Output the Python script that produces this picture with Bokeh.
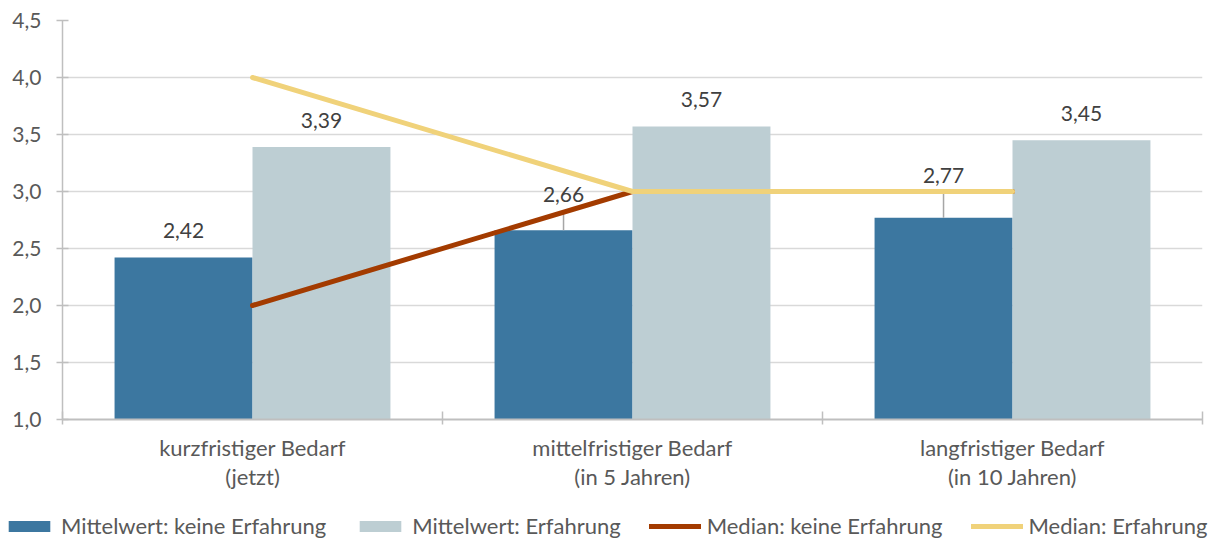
from bokeh.plotting import figure
from bokeh.layouts import column
from bokeh.models import (Range1d, FixedTicker, Legend, LegendItem,
                          ColumnDataSource, CustomJSTickFormatter)
from bokeh.transform import dodge
from bokeh.core.properties import value
from bokeh.embed import file_html
from bokeh.resources import INLINE

# ---- data ----
categories = ["kurzfristiger Bedarf\n(jetzt)",
              "mittelfristiger Bedarf\n(in 5 Jahren)",
              "langfristiger Bedarf\n(in 10 Jahren)"]
mean_none = [2.42, 2.66, 2.77]
mean_exp = [3.39, 3.57, 3.45]
median_none = [2.0, 3.0, 3.0]
median_exp = [4.0, 3.0, 3.0]
y_ticks = [1.0, 1.5, 2.0, 2.5, 3.0, 3.5, 4.0, 4.5]
series_names = ["Mittelwert: keine Erfahrung", "Mittelwert: Erfahrung",
                "Median: keine Erfahrung", "Median: Erfahrung"]

# ---- styles ----
C_DARK = "#3C77A0"
C_LIGHT = "#BDCED3"
C_RED = "#A33B00"
C_YEL = "#F0D27A"
TXT = "#595959"
FONT = "Lato"
label_lift = [0, 9, 15]   # px, labels moved up (with leader line)

W, H = 1210, 503
frame_left, frame_right, frame_top, frame_bottom = 62, 1202, 20, 419
ppu = (frame_bottom - frame_top) / (y_ticks[-1] - y_ticks[0])

n = len(categories)
xc = [i + 0.5 for i in range(n)]
fmt = lambda v: f"{v:.2f}".replace(".", ",")

src = ColumnDataSource(dict(
    x=xc, mean_none=mean_none, mean_exp=mean_exp,
    median_none=median_none, median_exp=median_exp,
    lbl_none=[fmt(v) for v in mean_none], lbl_exp=[fmt(v) for v in mean_exp],
    lbl_none_y=[v + l / ppu for v, l in zip(mean_none, label_lift)],
))

p = figure(width=W, height=H, x_range=Range1d(0, n), y_range=Range1d(y_ticks[0], y_ticks[-1]),
           output_backend="svg", toolbar_location=None, title=None,
           min_border_left=frame_left, min_border_right=W - frame_right,
           min_border_top=frame_top, min_border_bottom=H - frame_bottom)
p.outline_line_color = None
p.background_fill_color = "white"
p.frame_align = False

# grid
p.xgrid.visible = False
p.ygrid.ticker = FixedTicker(ticks=y_ticks)
p.ygrid.grid_line_color = "#D9D9D9"
p.ygrid.grid_line_width = 1.5

# y axis
ya = p.yaxis[0]
ya.ticker = FixedTicker(ticks=y_ticks)
ya.formatter = CustomJSTickFormatter(code="return tick.toFixed(1).replace('.', ',')")
ya.axis_line_color = "#BFBFBF"
ya.axis_line_width = 1.5
ya.major_tick_line_color = "#BFBFBF"
ya.major_tick_line_width = 1.5
ya.major_tick_out = 6
ya.major_tick_in = 6
ya.minor_tick_line_color = None
ya.major_label_text_font = FONT
ya.major_label_text_font_size = "21px"
ya.major_label_text_color = TXT
ya.major_label_standoff = 15

# x axis: labels at category centres, tick marks at boundaries (minor ticks)
xa = p.xaxis[0]
xa.ticker = FixedTicker(ticks=xc, minor_ticks=list(range(n + 1)))
xa.formatter = CustomJSTickFormatter(args=dict(labels=categories),
                                     code="return labels[Math.floor(tick)]")
xa.axis_line_color = "#BFBFBF"
xa.axis_line_width = 2
xa.major_tick_line_color = None
xa.major_tick_out = 0
xa.major_tick_in = 0
xa.minor_tick_line_color = "#BFBFBF"
xa.minor_tick_line_width = 1.5
xa.minor_tick_out = 5
xa.minor_tick_in = 8
xa.major_label_text_font = FONT
xa.major_label_text_font_size = "22px"
xa.major_label_text_color = TXT
xa.major_label_text_line_height = 1.08
xa.major_label_standoff = 9

# bars
bw = 0.363
r1 = p.vbar(x=dodge("x", -bw / 2, range=p.x_range), top="mean_none", bottom=y_ticks[0],
            width=bw, source=src, fill_color=C_DARK, line_color=None)
r2 = p.vbar(x=dodge("x", bw / 2, range=p.x_range), top="mean_exp", bottom=y_ticks[0],
            width=bw, source=src, fill_color=C_LIGHT, line_color=None)

# leader lines for moved labels
lead_src = ColumnDataSource(dict(
    x=[xc[i] - bw / 2 for i in range(n) if label_lift[i] > 0],
    y0=[mean_none[i] for i in range(n) if label_lift[i] > 0],
    y1=[mean_none[i] + (label_lift[i] + 9) / ppu for i in range(n) if label_lift[i] > 0],
))
p.segment(x0="x", y0="y0", x1="x", y1="y1", source=lead_src, line_color="#A6A6A6", line_width=1.5)

# median lines
r3 = p.line("x", "median_none", source=src, line_color=C_RED, line_width=5, line_cap="round")
r4 = p.line("x", "median_exp", source=src, line_color=C_YEL, line_width=5, line_cap="round")

# value labels
for xoff, ycol, tcol in [(-bw / 2, "lbl_none_y", "lbl_none"), (bw / 2, "mean_exp", "lbl_exp")]:
    p.text(x=dodge("x", xoff, range=p.x_range), y=ycol, text=tcol, source=src,
           text_align="center", text_baseline="middle", y_offset=-27,
           text_font=value(FONT), text_font_size="21px", text_color="#404040")

# legend in its own strip under the chart (legend glyphs use the real series' styles)
leg_fig = figure(width=W, height=36, x_range=Range1d(0, 1), y_range=Range1d(0, 1),
                 output_backend="svg", toolbar_location=None, title=None,
                 x_axis_location=None, y_axis_location=None, min_border=0,
                 min_border_left=0, min_border_right=0, min_border_top=0, min_border_bottom=0)
leg_fig.frame_align = False
leg_fig.grid.visible = False
leg_fig.outline_line_color = None
off = ColumnDataSource(dict(x=[-5.0, -4.0], y=[-5.0, -4.0]))   # off-screen, legend only
l1 = leg_fig.vbar(x="x", top="y", width=1, source=off, fill_color=C_DARK, line_color=None)
l2 = leg_fig.vbar(x="x", top="y", width=1, source=off, fill_color=C_LIGHT, line_color=None)
l3 = leg_fig.line("x", "y", source=off, line_color=C_RED, line_width=5, line_cap="round")
l4 = leg_fig.line("x", "y", source=off, line_color=C_YEL, line_width=5, line_cap="round")
legend = Legend(items=[LegendItem(label=s, renderers=[r]) for s, r in zip(series_names, [l1, l2, l3, l4])],
                orientation="horizontal", location=(3, 0),
                padding=0, margin=0, spacing=28, label_standoff=6,
                glyph_width=52, glyph_height=14,
                border_line_alpha=0, background_fill_alpha=0,
                label_text_font=FONT, label_text_font_size="22px",
                label_text_line_height=1.0,
                label_text_color=TXT)
leg_fig.add_layout(legend)

open("out.html", "w").write(file_html(column(p, leg_fig, spacing=0), INLINE))
